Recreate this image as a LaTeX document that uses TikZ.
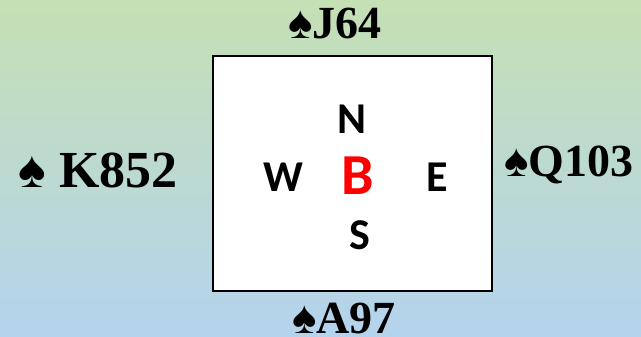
\documentclass[tikz,border=0pt]{standalone}
\usepackage{fontspec}
\newfontfamily\cardfont{Liberation Serif}
\newfontfamily\seatfont{Carlito}
\usetikzlibrary{positioning}
\definecolor{topgreen}{HTML}{C5E0B4}
\definecolor{botblue}{HTML}{B4D3EE}
\tikzset{
hand/.style={font=\cardfont\bfseries\fontsize{46}{50}\selectfont,text=black,inner sep=0pt,anchor=base},
seat/.style={font=\seatfont\bfseries\fontsize{44}{48}\selectfont,text=black,inner sep=0pt}
}
\begin{document}
\begin{tikzpicture}[x=1pt,y=-1pt]
\useasboundingbox (0,0) rectangle (641,337);
\shade[top color=topgreen,bottom color=botblue] (0,0) rectangle (641,337);
\draw[fill=white,draw=black,line width=2pt] (213,56) rectangle (492,291);

\node[hand] (north) at (335,39) {♠J64};
\node[hand,font=\cardfont\bfseries\fontsize{52}{56}\selectfont] (west) at (98,188) {♠ K852};
\node[hand] (east) at (569,177) {♠Q103};
\node[hand] (south) at (344,333) {♠A97};

\node[seat] (n) at (352,119) {N};
\node[seat] (w) at (283,177) {W};
\node[seat] (e) at (437,177) {E};
\node[seat] (s) at (360,235) {S};
\node[seat,font=\seatfont\bfseries\fontsize{58}{62}\selectfont,text=red] (dealer) at (358,176) {B};
\end{tikzpicture}
\end{document}
